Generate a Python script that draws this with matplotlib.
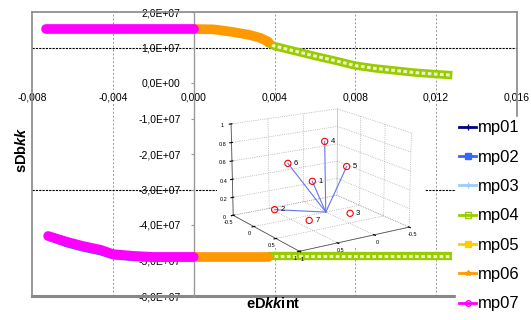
import matplotlib
matplotlib.use('Agg')
import matplotlib.pyplot as plt
from matplotlib.lines import Line2D
from matplotlib.patches import Rectangle
from matplotlib.ticker import FormatStrFormatter, FixedLocator
from mpl_toolkits.mplot3d import Axes3D  # noqa

plt.rcParams['font.family'] = ['Liberation Sans', 'DejaVu Sans']
plt.rcParams['mathtext.fontset'] = 'custom'
plt.rcParams['mathtext.rm'] = 'Liberation Sans:bold'
plt.rcParams['mathtext.it'] = 'Liberation Sans:italic:bold'
plt.rcParams['mathtext.bf'] = 'Liberation Sans:bold'

# ---------------- data ----------------
series_names = ['mp01', 'mp02', 'mp03', 'mp04', 'mp05', 'mp06', 'mp07']
series_colors = ['#000080', '#3366FF', '#99CCFF', '#99CC00', '#FFCC00', '#FF9900', '#FF00FF']

x_ticks = [-0.008, -0.004, 0.0, 0.004, 0.008, 0.012, 0.016]
x_tick_labels = ['-0,008', '-0,004', '0,000', '0,004', '0,008', '0,012', '0,016']
y_ticks = [2e7, 1e7, 0, -1e7, -2e7, -3e7, -4e7, -5e7, -6e7]
y_tick_labels = ['2,0E+07', '1,0E+07', '0,0E+00', '-1,0E+07', '-2,0E+07',
                 '-3,0E+07', '-4,0E+07', '-5,0E+07', '-6,0E+07']

# mp07 (magenta)
mp07_x_up = [-0.0073, -0.0060, -0.0050, -0.0040, -0.0030, -0.0020, -0.0010, 0.0]
mp07_y_up = [1.52e7, 1.52e7, 1.52e7, 1.52e7, 1.52e7, 1.52e7, 1.52e7, 1.52e7]
mp07_x_lo = [-0.0072, -0.0063, -0.0055, -0.0046, -0.0040, -0.0030, -0.0020, -0.0010, 0.0]
mp07_y_lo = [-4.31e7, -4.47e7, -4.59e7, -4.70e7, -4.82e7, -4.87e7, -4.90e7, -4.90e7, -4.90e7]

# mp02 (blue, mostly hidden under mp07)
mp02_x_lo = [-0.0071, -0.0063, -0.0055, -0.0046, -0.0040, -0.0030, -0.0020, -0.0010, 0.0]
mp02_y_lo = [-4.36e7, -4.53e7, -4.65e7, -4.76e7, -4.87e7, -4.92e7, -4.94e7, -4.94e7, -4.93e7]

# mp06 (orange)
mp06_x_up = [0.0, 0.0010, 0.0019, 0.0028, 0.0033, 0.0037]
mp06_y_up = [1.52e7, 1.51e7, 1.44e7, 1.35e7, 1.27e7, 1.16e7]
mp06_x_lo = [0.0, 0.0010, 0.0020, 0.0030, 0.0037]
mp06_y_lo = [-4.90e7, -4.90e7, -4.90e7, -4.90e7, -4.90e7]

# mp04 (green)
mp04_x_up = [0.0036, 0.0040, 0.0050, 0.0060, 0.0070, 0.0080, 0.0090, 0.0100, 0.0110, 0.0120, 0.0128]
mp04_y_up = [1.15e7, 1.04e7, 0.90e7, 0.76e7, 0.63e7, 0.49e7, 0.41e7, 0.35e7, 0.29e7, 0.25e7, 0.22e7]
mp04_x_lo = [0.0037, 0.0050, 0.0060, 0.0070, 0.0080, 0.0090, 0.0100, 0.0110, 0.0120, 0.0128]
mp04_y_lo = [-4.88e7, -4.88e7, -4.88e7, -4.88e7, -4.88e7, -4.88e7, -4.88e7, -4.88e7, -4.88e7, -4.88e7]

# inset: 3D points
pt_labels = ['1', '2', '3', '4', '5', '6', '7']
pt_x = [0.25, 0.47, -0.22, 0.05, 0.0, 0.50, 0.34]
pt_y = [0.09, -0.42, 0.20, 0.05, 0.44, -0.05, 0.16]
pt_z = [0.40, 0.00, 0.00, 0.80, 0.60, 0.60, 0.00]
hub = [0.0, 0.0, 0.0]
linked = [0, 1, 3, 4, 5]

# ---------------- figure ----------------
W, H = 531, 320
fig = plt.figure(figsize=(W / 100, H / 100), dpi=100)
L, R, T, B = 32, 517, 12, 296
ax = fig.add_axes([L / W, 1 - B / H, (R - L) / W, (B - T) / H])
ax.set_xlim(-0.008, 0.016)
ax.set_ylim(-6e7, 2e7)

# grid / borders
for xv in [-0.004, 0.004, 0.008, 0.012]:
    ax.axvline(xv, color='#999999', lw=0.7, ls=(0, (2, 2)), zorder=1)
for yv in [1e7, -3e7]:
    ax.axhline(yv, color='black', lw=0.8, ls=(0, (2, 1)), zorder=1)
ax.axvline(-0.008, color='#888888', lw=1.2, zorder=2, clip_on=False)
ax.axvline(0.016, color='#888888', lw=1.2, zorder=2, clip_on=False)
ax.axhline(2e7, color='#888888', lw=1.2, zorder=2, clip_on=False)
ax.axhline(-6e7, color='#888888', lw=2.2, zorder=2, clip_on=False)
for s in ['top', 'right']:
    ax.spines[s].set_visible(False)
ax.spines['left'].set_position(('data', 0))
ax.spines['left'].set_color('#999999')
ax.spines['left'].set_linewidth(1.0)
ax.spines['bottom'].set_position(('data', 0))
ax.spines['bottom'].set_visible(False)

ax.set_xticks(x_ticks)
ax.set_xticklabels(x_tick_labels, fontsize=7.5)
ax.set_yticks(y_ticks)
ax.set_yticklabels(y_tick_labels, fontsize=7.5)
ax.tick_params(axis='x', length=0, pad=7)
ax.tick_params(axis='y', length=2.5, pad=7, color='#999999')

# series
def thick(xs, ys, color, lw, z):
    ax.plot(xs, ys, color=color, lw=lw, solid_capstyle='round', solid_joinstyle='round', zorder=z)

def hollow(xs, ys, color, z):
    ax.plot(xs, ys, color=color, lw=6, solid_capstyle='butt', zorder=z)
    ax.plot(xs, ys, color='#eef6cc', lw=2.2, ls=(0, (1.2, 0.8)), zorder=z)

thick(mp02_x_lo, mp02_y_lo, series_colors[1], 5, 3)
hollow(mp04_x_up, mp04_y_up, series_colors[3], 3)
hollow(mp04_x_lo, mp04_y_lo, series_colors[3], 3)
thick(mp06_x_up, mp06_y_up, series_colors[5], 7, 4)
thick(mp06_x_lo, mp06_y_lo, series_colors[5], 7, 4)
thick(mp07_x_up, mp07_y_up, series_colors[6], 7, 5)
thick(mp07_x_lo, mp07_y_lo, series_colors[6], 7, 5)

# axis labels
fig.text(273 / W, 1 - 304 / H, r'$\mathrm{eD}\mathit{kk}\mathrm{int}$', ha='center', va='center', fontsize=10.5)
fig.text(22 / W, 1 - 150 / H, r'$\mathrm{sDb}\mathit{kk}$', ha='center', va='center', fontsize=10.5, rotation=90)

# legend
markers = ['+', 's', '|', 's', 's', '*', 'o']
mfcs = [series_colors[0], series_colors[1], series_colors[2], 'none', series_colors[4], series_colors[5], 'none']
handles = [Line2D([0], [0], color=c, lw=2, marker=m, mfc=f, mec=c, ms=4)
           for c, m, f in zip(series_colors, markers, mfcs)]
leg = fig.legend(handles, series_names, loc='upper left', bbox_to_anchor=(456 / W, 1 - 117 / H),
                 frameon=True, fontsize=12, handlelength=1.0, handletextpad=0.1,
                 labelspacing=0.86, borderpad=0.2, borderaxespad=0)
leg.get_frame().set_edgecolor('white')
leg.get_frame().set_facecolor('white')
leg.get_frame().set_alpha(1)
leg.set_zorder(10)

# inset background
il, ir, it, ib = 217, 425, 103, 248
fig.patches.append(Rectangle((il / W, 1 - ib / H), (ir - il) / W, (ib - it) / H,
                             transform=fig.transFigure, facecolor='white', edgecolor='none', zorder=5))

# inset 3d (axes larger than its white background, transparent)
cx, cy = 317, 178
aw, ah = 268, 200
ax3 = fig.add_axes([(cx - aw / 2) / W, 1 - (cy + ah / 2) / H, aw / W, ah / H], projection='3d')
ax3.patch.set_alpha(0)
ax3.set_zorder(6)
ax3.set_xlim(-0.5, 1)
ax3.set_ylim(-0.5, 1)
ax3.set_zlim(0, 1)
ax3.view_init(elev=16, azim=57)
ax3.set_box_aspect((1, 1, 0.75), zoom=1.0)
ax3.xaxis.set_major_locator(FixedLocator([-0.5, 0, 0.5, 1]))
ax3.yaxis.set_major_locator(FixedLocator([-0.5, 0, 0.5, 1]))
ax3.zaxis.set_major_locator(FixedLocator([0, 0.2, 0.4, 0.6, 0.8, 1]))
for a in (ax3.xaxis, ax3.yaxis, ax3.zaxis):
    a.set_major_formatter(FormatStrFormatter('%g'))
    a.set_pane_color((1, 1, 1, 0))
    a._axinfo['grid'].update(linestyle=':', color='#999999', linewidth=0.5)
    a.line.set_color('#555555')
    a.line.set_linewidth(0.6)
ax3.tick_params(labelsize=4, length=1)
ax3.tick_params(axis='x', pad=-5)
ax3.tick_params(axis='y', pad=-5)
ax3.tick_params(axis='z', pad=-4)
for i in linked:
    ax3.plot([hub[0], pt_x[i]], [hub[1], pt_y[i]], [hub[2], pt_z[i]], color='#6677ee', lw=0.8)
ax3.scatter(pt_x, pt_y, pt_z, s=20, facecolors='none', edgecolors='red', linewidths=0.8, depthshade=False)
for i, lab in enumerate(pt_labels):
    ax3.text(pt_x[i] - 0.06, pt_y[i] + 0.04, pt_z[i], lab, fontsize=5.5, ha='left', va='center')

fig.savefig('out.png', dpi=100)
